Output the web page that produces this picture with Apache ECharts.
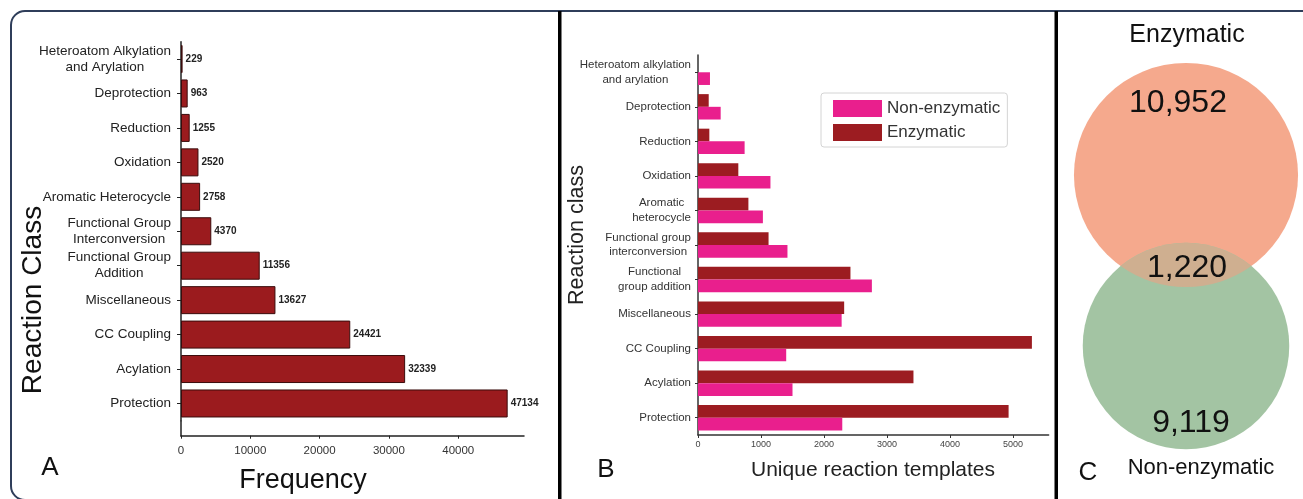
<!DOCTYPE html>
<html><head><meta charset="utf-8">
<script src="https://cdn.jsdelivr.net/npm/echarts@6/dist/echarts.min.js"></script>
<style>html,body{margin:0;padding:0;background:#fff}#c{width:1303px;height:499px}</style>
</head><body><div id="c"></div>
<script>
// ---------- data ----------
const classesA = ['Heteroatom Alkylation\nand Arylation', 'Deprotection', 'Reduction', 'Oxidation', 'Aromatic Heterocycle', 'Functional Group\nInterconversion', 'Functional Group\nAddition', 'Miscellaneous', 'CC Coupling', 'Acylation', 'Protection'];
const frequencyA = [229, 963, 1255, 2520, 2758, 4370, 11356, 13627, 24421, 32339, 47134];
const classesB = ['Heteroatom alkylation\nand arylation', 'Deprotection', 'Reduction', 'Oxidation', 'Aromatic\nheterocycle', 'Functional group\ninterconversion', 'Functional\ngroup addition', 'Miscellaneous', 'CC Coupling', 'Acylation', 'Protection'];
const enzymaticB = [0, 170, 180, 640, 800, 1120, 2420, 2320, 5300, 3420, 4930];
const nonEnzymaticB = [190, 360, 740, 1150, 1030, 1420, 2760, 2280, 1400, 1500, 2290];
const seriesNamesB = ['Non-enzymatic', 'Enzymatic'];
const vennSets = ['Enzymatic', 'Non-enzymatic'];
const vennOnly = [10952, 9119];
const vennBoth = 1220;

// ---------- helpers ----------
const FONT = "'Liberation Sans', Arial, Helvetica, sans-serif";
function centered(v) { return v.split('\n').map(s => '{c|' + s + '}').join('\n'); }
function plain(v) { return String(v); }
function lensArea(r1, r2, d) {
  if (d >= r1 + r2) return 0;
  const a1 = Math.acos((d * d + r1 * r1 - r2 * r2) / (2 * d * r1));
  const a2 = Math.acos((d * d + r2 * r2 - r1 * r1) / (2 * d * r2));
  const k = Math.sqrt((-d + r1 + r2) * (d + r1 - r2) * (d - r1 + r2) * (d + r1 + r2));
  return r1 * r1 * a1 + r2 * r2 * a2 - 0.5 * k;
}
// area-proportional Venn: radius from set totals, distance solved from overlap
const rTop = Math.sqrt((vennOnly[0] + vennBoth) / Math.PI);
const rBot = Math.sqrt((vennOnly[1] + vennBoth) / Math.PI);
let lo = Math.abs(rTop - rBot) + 1e-6, hi = rTop + rBot;
for (let i = 0; i < 80; i++) { const m = (lo + hi) / 2; if (lensArea(rTop, rBot, m) > vennBoth) lo = m; else hi = m; }
const dist = (lo + hi) / 2;
const vennData = [[0, 0, rTop], [0, -dist, rBot], [0, 0, rTop]];
const fmt = n => n.toLocaleString('en-US');

const chart = echarts.init(document.getElementById('c'), null, { renderer: 'canvas' });

const COL_A = '#9B1B1E', COL_ENZ = '#9C1C21', COL_NON = '#E91F8D';
const C_TOP = '#F5A98D', C_BOT = '#A3C4A3', C_MIX = '#CFAF90';

function renderVenn(params, api) {
  const i = params.dataIndex;
  const p1 = api.coord([vennData[0][0], vennData[0][1]]);
  const p2 = api.coord([vennData[1][0], vennData[1][1]]);
  const R1 = api.size([vennData[0][2], 0])[0];
  const R2 = api.size([vennData[1][2], 0])[0];
  const D = p2[1] - p1[1];
  if (i === 0) return { type: 'circle', shape: { cx: p1[0], cy: p1[1], r: R1 }, style: { fill: C_TOP } };
  if (i === 1) return { type: 'circle', shape: { cx: p2[0], cy: p2[1], r: R2 }, style: { fill: C_BOT } };
  const a = (D * D + R1 * R1 - R2 * R2) / (2 * D);
  const h = Math.sqrt(R1 * R1 - a * a);
  const lx = p1[0] - h, rx = p1[0] + h, yy = p1[1] + a;
  const path = 'M' + lx + ' ' + yy + ' A' + R2 + ' ' + R2 + ' 0 0 1 ' + rx + ' ' + yy +
               ' A' + R1 + ' ' + R1 + ' 0 0 1 ' + lx + ' ' + yy + ' Z';
  const lensTop = p2[1] - R2, lensBot = p1[1] + R1;
  const tStyle = { fill: '#111', font: '32px ' + FONT, align: 'center', verticalAlign: 'middle', textAlign: 'center', textVerticalAlign: 'middle' };
  return {
    type: 'group', children: [
      { type: 'path', shape: { pathData: path }, style: { fill: C_MIX } },
      { type: 'text', x: p1[0] - 8, y: p1[1] - 0.64 * R1, style: Object.assign({ text: fmt(vennOnly[0]) }, tStyle) },
      { type: 'text', x: p1[0] + 1, y: (lensTop + lensBot) / 2 + 3, style: Object.assign({ text: fmt(vennBoth) }, tStyle) },
      { type: 'text', x: p2[0] + 5, y: p2[1] + 0.75 * R2, style: Object.assign({ text: fmt(vennOnly[1]) }, tStyle) }
    ]
  };
}

function txt(text, x, y, size, opts, color) {
  return Object.assign({
    type: 'text', x: x, y: y, z: 100,
    style: { text: text, font: size + 'px ' + FONT, fill: color || '#111', align: 'center', verticalAlign: 'middle', textAlign: 'center', textVerticalAlign: 'middle' }
  }, opts || {});
}

const option = {
  animation: false,
  backgroundColor: '#fff',
  textStyle: { fontFamily: FONT },
  grid: [
    { left: 181, top: 41.8, width: 343, height: 378.9 },
    { left: 698, top: 55, width: 350.6, height: 380 },
    { left: 1069, top: 40, width: 234, height: 459 }
  ],
  legend: {
    data: seriesNamesB, orient: 'vertical', left: 821, top: 93,
    itemWidth: 49, itemHeight: 17, itemGap: 7, icon: 'rect',
    padding: [7, 7, 6, 12], borderColor: '#d4d4d4', borderWidth: 1, borderRadius: 3,
    textStyle: { fontSize: 17, color: '#333', fontFamily: FONT }
  },
  xAxis: [
    { gridIndex: 0, type: 'value', min: 0, max: 49490, interval: 10000, offset: 15,
      axisLine: { show: true, lineStyle: { color: '#222', width: 1.5 } },
      axisTick: { show: true, length: 3, lineStyle: { color: '#222' } },
      splitLine: { show: false },
      axisLabel: { showMaxLabel: false, formatter: plain, fontSize: 11.5, color: '#333', margin: 9, fontFamily: FONT } },
    { gridIndex: 1, type: 'value', min: 0, max: 5565, interval: 1000,
      axisLine: { show: true, lineStyle: { color: '#333', width: 1.5 } },
      axisTick: { show: true, length: 3, lineStyle: { color: '#333' } },
      splitLine: { show: false },
      axisLabel: { showMaxLabel: false, formatter: plain, fontSize: 9, color: '#444', margin: 5, fontFamily: FONT } },
    { gridIndex: 2, type: 'value', min: -65, max: 65, show: false }
  ],
  yAxis: [
    { gridIndex: 0, type: 'category', data: classesA, inverse: true,
      axisLine: { show: true, lineStyle: { color: '#222', width: 1.5 } },
      axisTick: { show: true, alignWithLabel: true, length: 4, lineStyle: { color: '#222' } },
      axisLabel: { margin: 10, formatter: centered, interval: 0,
        rich: { c: { align: 'center', fontSize: 13.5, lineHeight: 16, color: '#222', fontFamily: FONT } } } },
    { gridIndex: 1, type: 'category', data: classesB, inverse: true,
      axisLine: { show: true, lineStyle: { color: '#333', width: 1.5 } },
      axisTick: { show: true, alignWithLabel: true, length: 3, lineStyle: { color: '#333' } },
      axisLabel: { margin: 7, formatter: centered, interval: 0,
        rich: { c: { align: 'center', fontSize: 11.5, lineHeight: 14.5, color: '#333', fontFamily: FONT } } } },
    { gridIndex: 2, type: 'value', min: -180, max: 75, show: false }
  ],
  series: [
    { type: 'bar', name: 'Frequency', xAxisIndex: 0, yAxisIndex: 0, data: frequencyA,
      barCategoryGap: '18.7%',
      itemStyle: { color: COL_A, borderColor: '#3A0C0C', borderWidth: 1 },
      label: { show: true, position: 'right', distance: 3, fontSize: 10, fontWeight: 'bold', color: '#222', fontFamily: FONT } },
    { type: 'bar', name: seriesNamesB[1], xAxisIndex: 1, yAxisIndex: 1, data: enzymaticB,
      barGap: '0%', barCategoryGap: '26.5%', itemStyle: { color: COL_ENZ } },
    { type: 'bar', name: seriesNamesB[0], xAxisIndex: 1, yAxisIndex: 1, data: nonEnzymaticB,
      barGap: '0%', barCategoryGap: '26.5%', itemStyle: { color: COL_NON } },
    { type: 'custom', name: 'venn', xAxisIndex: 2, yAxisIndex: 2, data: vennData,
      renderItem: renderVenn, silent: true, clip: false }
  ],
  graphic: [
    // figure frame
    { type: 'rect', shape: { x: 11, y: 11, width: 1330, height: 489, r: 14 }, z: 90,
      style: { fill: 'none', stroke: '#2F3E5A', lineWidth: 2 } },
    { type: 'rect', shape: { x: 558, y: 11, width: 3.5, height: 490 }, z: 91, style: { fill: '#000' } },
    { type: 'rect', shape: { x: 1054.5, y: 11, width: 3.5, height: 490 }, z: 91, style: { fill: '#000' } },
    // y axis A extension down to the offset x axis
    { type: 'line', shape: { x1: 181, y1: 420.5, x2: 181, y2: 436.5 }, z: 50, style: { stroke: '#222', lineWidth: 1.5 } },
    // panel A texts
    txt('Reaction Class', 33, 300, 28, { rotation: Math.PI / 2 }),
    txt('Frequency', 303, 481, 27),
    txt('A', 50, 468, 26),
    // panel B texts
    txt('Reaction class', 577, 235, 21.5, { rotation: Math.PI / 2 }, '#222'),
    txt('Unique reaction templates', 873, 470, 21, null, '#222'),
    txt('B', 606, 470, 26),
    // panel C texts
    txt(vennSets[0], 1187, 35, 25),
    txt(vennSets[1], 1201, 468, 22),
    txt('C', 1088, 473, 26)
  ]
};
chart.setOption(option);
</script>
</body></html>
